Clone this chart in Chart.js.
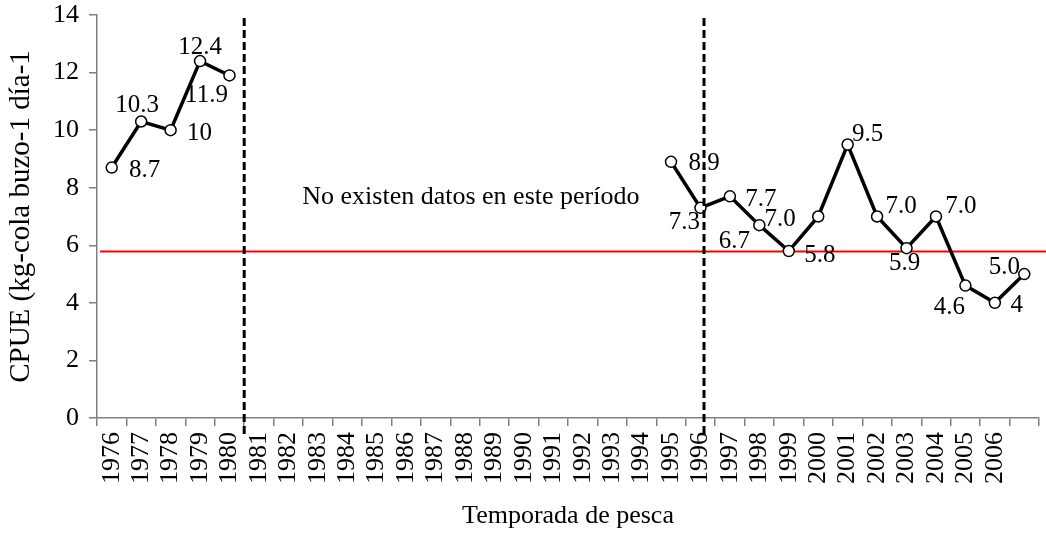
<!DOCTYPE html>
<html>
<head>
<meta charset="utf-8">
<script src="https://cdn.jsdelivr.net/npm/chart.js@4"></script>
<style>
  html, body { margin: 0; padding: 0; background: #fff; }
  #wrap { width: 1046px; height: 536px; position: relative; }
</style>
</head>
<body>
<div id="wrap"><canvas id="c" width="1046" height="536"></canvas></div>
<script>
// ---- data ----
const seasons = ['1976','1977','1978','1979','1980','1981','1982','1983','1984','1985',
  '1986','1987','1988','1989','1990','1991','1992','1993','1994','1995','1996','1997',
  '1998','1999','2000','2001','2002','2003','2004','2005','2006',''];
const cpue = [8.7, 10.3, 10, 12.4, 11.9,
  null, null, null, null, null, null, null, null, null, null, null, null, null, null,
  8.9, 7.3, 7.7, 6.7, 5.8, 7.0, 9.5, 7.0, 5.9, 7.0, 4.6, 4.0, 5.0];
const pointLabels = ['8.7','10.3','10','12.4','11.9',
  '', '', '', '', '', '', '', '', '', '', '', '', '', '',
  '8.9','7.3','7.7','6.7','5.8','7.0','9.5','7.0','5.9','7.0','4.6','4','5.0'];
const referenceLevel = 5.8;          // red horizontal line
const dividerPositions = [4.5, 20.12]; // vertical dashed lines (category index units)
const yTicks = [0, 2, 4, 6, 8, 10, 12, 14];
const noteText = 'No existen datos en este período';
const noteAt = { x: 12.2, y: 7.68 };
const yTitle = 'CPUE (kg-cola buzo-1 día-1';
const xTitle = 'Temporada de pesca';

// label offsets in px (placement only)
const labelOffsets = [[33,3],[-4,-16],[29,3],[0,-14],[-23,20],
  null,null,null,null,null,null,null,null,null,null,null,null,null,null,
  [33,2],[-16,15],[31,3],[-25,16],[31,4],[-38,3],[20,-10],[24,-10],[-2,15],[25,-10],[-16,22],[22,3],[-20,-7]];

const SERIF = '"Liberation Serif", "DejaVu Serif", serif';

const overlay = {
  id: 'overlay',
  beforeDatasetsDraw(chart) {
    const ctx = chart.ctx, y = chart.scales.y, area = chart.chartArea;
    ctx.save();
    ctx.strokeStyle = '#ff0000';
    ctx.lineWidth = 2;
    const py = Math.round(y.getPixelForValue(referenceLevel)) + 0.5;
    ctx.beginPath();
    ctx.moveTo(area.left + 3, py);
    ctx.lineTo(chart.width, py);
    ctx.stroke();
    const x = chart.scales.x;
    ctx.fillStyle = '#000';
    ctx.font = '26px ' + SERIF;
    ctx.textAlign = 'center';
    ctx.textBaseline = 'middle';
    ctx.fillText(noteText, x.getPixelForValue(noteAt.x), y.getPixelForValue(noteAt.y));
    ctx.restore();
  },
  afterDatasetsDraw(chart) {
    const ctx = chart.ctx, x = chart.scales.x, y = chart.scales.y;
    ctx.save();
    ctx.strokeStyle = '#000';
    ctx.lineWidth = 3;
    ctx.setLineDash([8, 4]);
    dividerPositions.forEach(v => {
      const px = x.getPixelForValue(v);
      ctx.beginPath();
      ctx.moveTo(px, y.getPixelForValue(13.9));
      ctx.lineTo(px, y.bottom + 20);
      ctx.stroke();
    });
    ctx.setLineDash([]);
    const meta = chart.getDatasetMeta(0);
    ctx.fillStyle = '#000';
    ctx.font = '25px ' + SERIF;
    ctx.textAlign = 'center';
    ctx.textBaseline = 'middle';
    meta.data.forEach((pt, i) => {
      if (cpue[i] === null || !pointLabels[i]) return;
      const off = labelOffsets[i] || [0, -14];
      ctx.fillText(pointLabels[i], pt.x + off[0], pt.y + off[1]);
    });
    ctx.restore();
  }
};

new Chart(document.getElementById('c'), {
  type: 'line',
  data: {
    labels: seasons,
    datasets: [{
      data: cpue,
      borderColor: '#000',
      borderWidth: 3.5,
      pointRadius: 5.5,
      pointBorderWidth: 1.5,
      pointBackgroundColor: '#fff',
      pointBorderColor: '#000',
      spanGaps: false,
      tension: 0
    }]
  },
  options: {
    responsive: false,
    animation: false,
    layout: { padding: { top: 15, right: 4, left: 0, bottom: 0 } },
    plugins: { legend: { display: false }, tooltip: { enabled: false } },
    scales: {
      x: {
        type: 'category',
        offset: true,
        grid: { display: true, drawOnChartArea: false, drawTicks: true, tickLength: 8, color: '#808080', lineWidth: 1.5, offset: true },
        border: { display: true, color: '#808080', width: 1.5 },
        ticks: { autoSkip: false, maxRotation: 90, minRotation: 90, color: '#000', padding: 6,
          font: { family: SERIF, size: 26 } },
        title: { display: true, text: xTitle, color: '#000', font: { family: SERIF, size: 26 }, padding: { top: 0, bottom: 4 } },
        afterFit(s) { s.height = 118; s.paddingLeft = 0; s.paddingRight = 0; }
      },
      y: {
        min: 0, max: 14,
        afterBuildTicks(s) { s.ticks = yTicks.map(v => ({ value: v })); },
        grid: { display: true, drawOnChartArea: false, drawTicks: true, tickLength: 8, color: '#808080', lineWidth: 1.5 },
        border: { display: true, color: '#808080', width: 1.5 },
        ticks: { color: '#000', padding: 10, font: { family: SERIF, size: 26 } },
        title: { display: true, text: yTitle, color: '#000', font: { family: SERIF, size: 29 }, padding: { top: 4, bottom: 0 } },
        afterFit(s) { s.width = 97; s.paddingTop = 0; s.paddingBottom = 0; }
      }
    }
  },
  plugins: [overlay]
});
</script>
</body>
</html>
